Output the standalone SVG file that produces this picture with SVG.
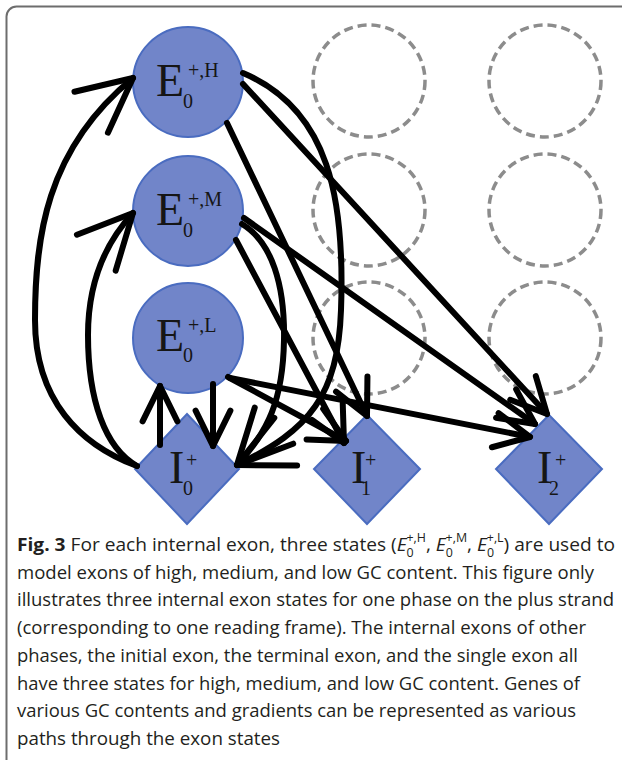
<svg xmlns="http://www.w3.org/2000/svg" width="622" height="760" viewBox="0 0 622 760">
  <style>
    .state { fill: #7185c9; stroke: #4a6cc0; stroke-width: 2; }
    .ghost { fill: none; stroke: #8c8c8c; stroke-width: 3.5; stroke-dasharray: 9 5; }
    .lbl { font-family: "Liberation Serif", "Times New Roman", serif; fill: #161616; font-size: 20px; }
    .big { font-size: 46px; }
    .edge { fill: none; stroke: #000; stroke-width: 6; stroke-linecap: round; stroke-linejoin: round; }
    .wide { marker-end: url(#headL); }
    .narrow { marker-end: url(#headS); }
    .cap { font-family: "Open Sans", "Noto Sans", "Liberation Sans", sans-serif; font-size: 18.5px; fill: #231f20; }
    .capsm { font-size: 12px; }
  </style>
  <defs>
    <marker id="headL" markerUnits="strokeWidth" orient="auto" overflow="visible" markerWidth="1" markerHeight="1">
      <path d="M-9,-4.4 L0,0 L-9,4.4" fill="none" stroke="#000" stroke-width="1" stroke-linecap="round" stroke-linejoin="round"/>
    </marker>
    <marker id="headS" markerUnits="strokeWidth" orient="auto" overflow="visible" markerWidth="1" markerHeight="1">
      <path d="M-5.9,-2.9 L0,0 L-5.9,2.9" fill="none" stroke="#000" stroke-width="1" stroke-linecap="round" stroke-linejoin="round"/>
    </marker>
  </defs>

  <rect width="622" height="760" fill="#fff"/>
  <!-- figure frame -->
  <rect x="6.5" y="6.5" width="660" height="800" rx="10" fill="none" stroke="#6d6d6d" stroke-width="2"/>

  <!-- states of the other phases (outline only) -->
  <g id="other-phases">
    <circle class="ghost" cx="369" cy="81" r="56"/>
    <circle class="ghost" cx="545" cy="81" r="56"/>
    <circle class="ghost" cx="369" cy="210" r="56"/>
    <circle class="ghost" cx="545" cy="210" r="56"/>
    <circle class="ghost" cx="369" cy="338" r="56"/>
    <circle class="ghost" cx="545" cy="338" r="56"/>
  </g>

  <g id="E0H">
    <circle class="state" cx="188" cy="82" r="55"/>
    <text class="lbl" x="156" y="96"><tspan class="big">E</tspan><tspan x="183" dy="12">0</tspan><tspan x="188" dy="-31">+,H</tspan></text>
  </g>
  <g id="E0M">
    <circle class="state" cx="188" cy="211" r="55"/>
    <text class="lbl" x="156" y="225"><tspan class="big">E</tspan><tspan x="183" dy="12">0</tspan><tspan x="188" dy="-31">+,M</tspan></text>
  </g>
  <g id="E0L">
    <circle class="state" cx="188" cy="338" r="55"/>
    <text class="lbl" x="156" y="351"><tspan class="big">E</tspan><tspan x="183" dy="11">0</tspan><tspan x="188" dy="-30">+,L</tspan></text>
  </g>

  <g id="I0">
    <polygon class="state" points="187,414 239,469 187,524 135,469"/>
    <text class="lbl" x="169" y="483"><tspan class="big">I</tspan><tspan x="183" dy="12">0</tspan><tspan x="186" dy="-28">+</tspan></text>
  </g>
  <g id="I1">
    <polygon class="state" points="367,415 420,469 367,524 314,469"/>
    <text class="lbl" x="351" y="483"><tspan class="big">I</tspan><tspan x="361" dy="12">1</tspan><tspan x="365" dy="-28">+</tspan></text>
  </g>
  <g id="I2">
    <polygon class="state" points="549,415 602,469 549,524 496,469"/>
    <text class="lbl" x="537" y="483"><tspan class="big">I</tspan><tspan x="549" dy="12">2</tspan><tspan x="555" dy="-28">+</tspan></text>
  </g>

  <g id="connectors">
    <!-- intron back to the three exon states -->
    <path class="edge wide" d="M137,466 C80,445 35,400 35,320 C35,240 45,150 133,78"/>
    <path class="edge wide" d="M137,466 C105,448 88,400 88,335 C88,280 108,240 133,213"/>
    <path class="edge narrow" d="M160,445 L160,386"/>
    <!-- exon states to phase 0 intron -->
    <path class="edge narrow" d="M213,384 L213,446"/>
    <path class="edge wide" d="M243,73 C330,110 345,200 341,310 C338,395 310,430 237,465"/>
    <path class="edge wide" d="M242,224 C272,242 285,285 284,340 C283,400 268,432 237,465"/>
    <!-- exon states to phase 1 intron -->
    <path class="edge narrow" d="M227,123 L367,416"/>
    <path class="edge narrow" d="M236,240 L344,443"/>
    <path class="edge narrow" d="M228,377 L346,441"/>
    <!-- exon states to phase 2 intron -->
    <path class="edge narrow" d="M243,84 L547,414"/>
    <path class="edge narrow" d="M244,218 L535,424"/>
    <path class="edge narrow" d="M230,378 L530,437"/>
  </g>

  <g id="caption">
    <text class="cap" x="17" y="551" textLength="598" lengthAdjust="spacingAndGlyphs"><tspan font-weight="bold">Fig. 3</tspan> For each internal exon, three states (<tspan font-style="italic">E</tspan><tspan class="capsm" dy="6">0</tspan><tspan class="capsm" dx="-7" dy="-15">+,H</tspan><tspan dy="9">, </tspan><tspan font-style="italic">E</tspan><tspan class="capsm" dy="6">0</tspan><tspan class="capsm" dx="-7" dy="-15">+,M</tspan><tspan dy="9">, </tspan><tspan font-style="italic">E</tspan><tspan class="capsm" dy="6">0</tspan><tspan class="capsm" dx="-7" dy="-15">+,L</tspan><tspan dy="9">) are used to</tspan></text>
    <text class="cap" x="17" y="579" textLength="577" lengthAdjust="spacingAndGlyphs">model exons of high, medium, and low GC content. This figure only</text>
    <text class="cap" x="17" y="606" textLength="597" lengthAdjust="spacingAndGlyphs">illustrates three internal exon states for one phase on the plus strand</text>
    <text class="cap" x="17" y="634" textLength="569" lengthAdjust="spacingAndGlyphs">(corresponding to one reading frame). The internal exons of other</text>
    <text class="cap" x="17" y="662" textLength="561" lengthAdjust="spacingAndGlyphs">phases, the initial exon, the terminal exon, and the single exon all</text>
    <text class="cap" x="17" y="690" textLength="563" lengthAdjust="spacingAndGlyphs">have three states for high, medium, and low GC content. Genes of</text>
    <text class="cap" x="17" y="717" textLength="559" lengthAdjust="spacingAndGlyphs">various GC contents and gradients can be represented as various</text>
    <text class="cap" x="17" y="745" textLength="263" lengthAdjust="spacingAndGlyphs">paths through the exon states</text>
  </g>
</svg>
